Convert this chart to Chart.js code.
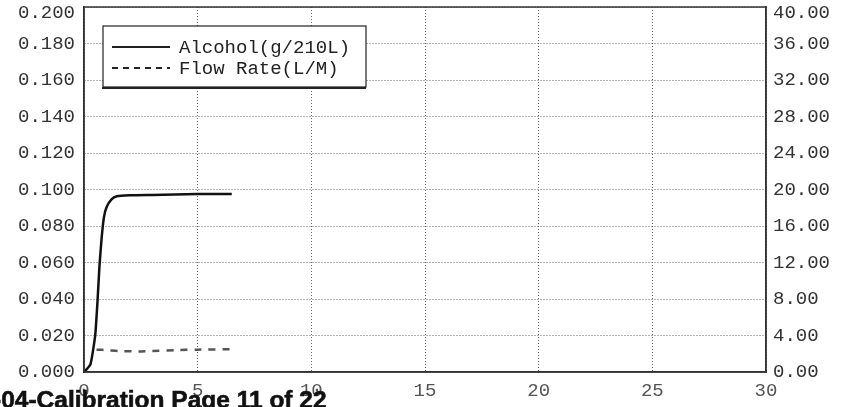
<!DOCTYPE html>
<html>
<head>
<meta charset="utf-8">
<script src="https://cdn.jsdelivr.net/npm/chart.js@4"></script>
<style>
  html, body { margin: 0; padding: 0; background: #fff; overflow: hidden; }
  #wrap { position: relative; width: 850px; height: 407px; }
  #footer {
    position: absolute; left: -7px; top: 385px;
    font: bold 24.5px "Liberation Sans", Arial, sans-serif;
    -webkit-text-stroke: 0.6px #111;
    color: #111; white-space: nowrap; line-height: 30px;
  }
</style>
</head>
<body>
<div id="wrap">
  <canvas id="chart01" width="850" height="407"></canvas>
  <div id="footer">-04-Calibration Page 11 of 22</div>
</div>
<script>
// 時間(秒)と測定値
var alcoholTime   = [0, 0.15, 0.28, 0.4, 0.5, 0.6, 0.68, 0.78, 0.88, 1.0, 1.2, 1.45, 2.0, 3.0, 4.0, 5.0, 6.0, 6.5];
var alcoholValues = [0, 0.002, 0.004, 0.012, 0.021, 0.040, 0.058, 0.074, 0.085, 0.0905, 0.0945, 0.0963, 0.0968, 0.0970, 0.0972, 0.0975, 0.0976, 0.0975];
var flowTime   = [0.55, 1.0, 1.5, 2.4, 3.0, 4.0, 5.0, 6.5];
var flowValues = [2.45, 2.4, 2.3, 2.25, 2.3, 2.4, 2.45, 2.5];
var xTicks = [0, 5, 10, 15, 20, 25, 30];
var seriesLabels = ['Alcohol(g/210L)', 'Flow Rate(L/M)'];

var monoFamily = '"Liberation Mono", "DejaVu Sans Mono", monospace';
var monoFont = { family: monoFamily, size: 19, lineHeight: 1.0 };

function toPoints(xs, ys) {
  return xs.map(function(x, i) { return { x: x, y: ys[i] }; });
}

// 一番上のラベルだけ少し下にずらす
function topTickFont(max) {
  return function(c) {
    if (c.tick && c.tick.value === max) {
      return { family: monoFamily, size: 19, lineHeight: 0.63 };
    }
    return monoFont;
  };
}
function topTickLabel(max, digits) {
  return function(v) {
    var s = v.toFixed(digits);
    return v === max ? ['', s] : s;
  };
}

// 枠線と凡例を描くプラグイン
var framePlugin = {
  id: 'frame',
  afterDraw: function(chart) {
    var ctx = chart.ctx, a = chart.chartArea;
    ctx.save();
    ctx.strokeStyle = '#333';
    ctx.lineWidth = 1.5;
    ctx.strokeRect(a.left, a.top, a.right - a.left, a.bottom - a.top);

    // legend box
    var bx = 103, by = 26, bw = 263, bh = 61;
    ctx.fillStyle = '#fff';
    ctx.fillRect(bx, by, bw, bh);
    ctx.strokeStyle = '#222';
    ctx.lineWidth = 1.2;
    ctx.strokeRect(bx, by, bw, bh);
    ctx.lineWidth = 2;
    ctx.beginPath();
    ctx.moveTo(bx - 1, by + bh + 1);
    ctx.lineTo(bx + bw, by + bh + 1);
    ctx.stroke();

    var ds = chart.data.datasets;
    var rows = [47, 68];
    ctx.font = '19px ' + monoFamily;
    ctx.textBaseline = 'middle';
    ds.forEach(function(d, i) {
      ctx.strokeStyle = '#222';
      ctx.lineWidth = 1.8;
      ctx.setLineDash(d.borderDash && d.borderDash.length ? [6, 5] : []);
      ctx.beginPath();
      ctx.moveTo(112, rows[i]);
      ctx.lineTo(170, rows[i]);
      ctx.stroke();
      ctx.setLineDash([]);
      ctx.fillStyle = '#222';
      ctx.fillText(d.label, 179, rows[i] + 1);
    });
    ctx.restore();
  }
};

var ctx = document.getElementById('chart01');
var chart = new Chart(ctx, {
  type: 'line',
  data: {
    datasets: [{
      label: seriesLabels[0],
      data: toPoints(alcoholTime, alcoholValues),
      borderColor: '#111',
      borderWidth: 2.5,
      pointRadius: 0,
      tension: 0.2,
      yAxisID: 'y'
    }, {
      label: seriesLabels[1],
      data: toPoints(flowTime, flowValues),
      borderColor: '#555',
      borderWidth: 2.5,
      borderDash: [7, 7],
      pointRadius: 0,
      tension: 0.2,
      yAxisID: 'y2'
    }]
  },
  options: {
    responsive: false,
    animation: false,
    layout: { padding: { top: 7, left: 0, right: 0, bottom: 0 } },
    plugins: {
      legend: { display: false },
      tooltip: { enabled: false }
    },
    scales: {
      x: {
        type: 'linear',
        min: 0, max: 30,
        afterBuildTicks: function(s) { s.ticks = xTicks.map(function(v) { return { value: v }; }); },
        afterFit: function(s) { s.height = 35; s.paddingLeft = 0; s.paddingRight = 0; },
        ticks: { color: '#555', font: monoFont, padding: 9, maxRotation: 0 },
        grid: { color: '#666', drawTicks: false, lineWidth: 1 },
        border: { display: true, color: '#333', width: 1.5, dash: [1, 2] }
      },
      y: {
        position: 'left',
        min: 0, max: 0.2,
        afterFit: function(s) { s.width = 84; s.paddingTop = 0; s.paddingBottom = 0; },
        ticks: {
          stepSize: 0.02, color: '#333', font: topTickFont(0.2), padding: 9,
          callback: topTickLabel(0.2, 3)
        },
        grid: { color: '#666', drawTicks: false, lineWidth: 1 },
        border: { display: true, color: '#333', width: 1.5, dash: [1, 2] }
      },
      y2: {
        position: 'right',
        min: 0, max: 40,
        afterFit: function(s) { s.width = 84; s.paddingTop = 0; s.paddingBottom = 0; },
        ticks: {
          stepSize: 4, color: '#333', font: topTickFont(40), padding: 7,
          callback: topTickLabel(40, 2)
        },
        grid: { display: false, drawTicks: false },
        border: { display: true, color: '#333', width: 1.5 }
      }
    }
  },
  plugins: [framePlugin]
});
</script>
</body>
</html>
